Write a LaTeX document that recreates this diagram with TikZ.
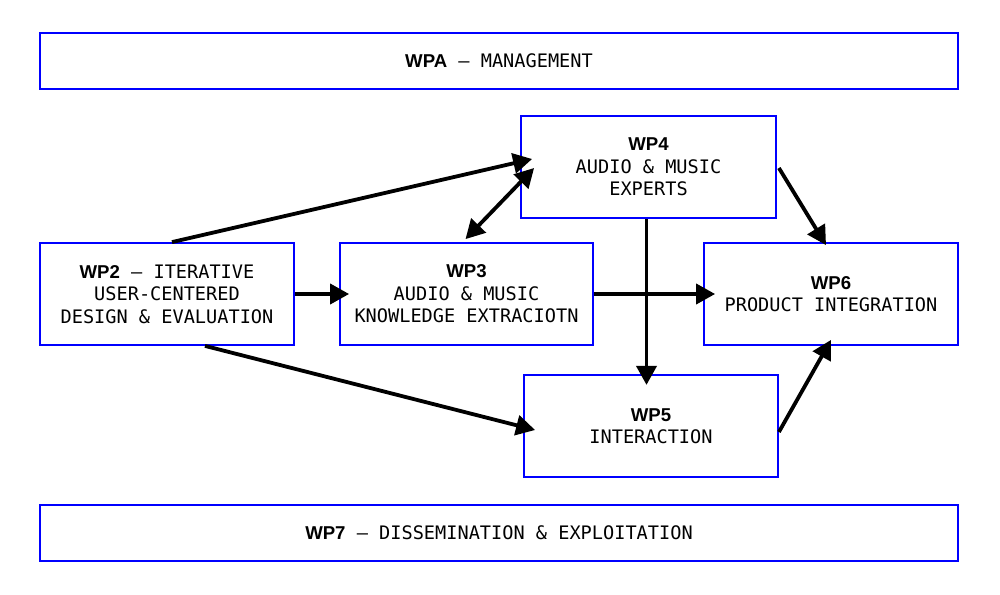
\documentclass[tikz,border=0pt]{standalone}
\usepackage{fontspec}
\setmonofont{DejaVu Sans Mono}
\newfontfamily\boldsans{Liberation Sans}
\usetikzlibrary{arrows.meta,calc}
\newcommand{\wpl}[1]{{\boldsans\bfseries #1}}
\begin{document}
\begin{tikzpicture}[x=1pt,y=-1pt,
  wpbox/.style={draw=blue, line width=1.8pt, inner sep=0pt, align=center,
    font=\fontsize{18.6}{22.5}\selectfont\ttfamily},
  conn/.style={line width=3.8pt, -{Triangle[length=19pt,width=20pt]}},
  dconn/.style={line width=3.8pt, {Triangle[length=19pt,width=20pt]}-{Triangle[length=19pt,width=20pt]}}]
\useasboundingbox (0,0) rectangle (1000,594);
\node[wpbox, minimum width=918, minimum height=56] (wpa) at (499,61) {\wpl{WPA} – MANAGEMENT};
\node[wpbox, minimum width=254, minimum height=102] (wp2) at (167,294) {\wpl{WP2} – ITERATIVE\\USER-CENTERED\\DESIGN \& EVALUATION};
\node[wpbox, minimum width=253, minimum height=102] (wp3) at (466.5,294) {\wpl{WP3}\\AUDIO \& MUSIC\\KNOWLEDGE EXTRACIOTN};
\node[wpbox, minimum width=255, minimum height=102] (wp4) at (648.5,167) {\wpl{WP4}\\AUDIO \& MUSIC\\EXPERTS};
\node[wpbox, minimum width=254, minimum height=102] (wp6) at (831,294) {\wpl{WP6}\\PRODUCT INTEGRATION};
\node[wpbox, minimum width=254, minimum height=102] (wp5) at (651,426) {\wpl{WP5}\\INTERACTION};
\node[wpbox, minimum width=918, minimum height=56] (wp7) at (499,533) {\wpl{WP7} – DISSEMINATION \& EXPLOITATION};

\draw[conn] ($(wp2.north)+(5,0)$) -- ($(wp4.west)+(12,-8)$);
\draw[dconn] ($(wp3.north)+(-1,-3)$) -- ($(wp4.west)+(14,1)$);
\draw[conn] (wp2.east) -- ($(wp3.west)+(10,0)$);
\draw[conn] (wp3.east) -- ($(wp6.west)+(12,0)$);
\draw[conn] ($(wp4.south)+(-2,0)$) -- ($(wp4.south)+(-2,166)$);
\draw[conn] ($(wp2.south)+(38,0)$) -- ($(wp5.west)+(12,4)$);
\draw[conn] ($(wp4.east)+(2,1)$) -- ($(wp6.north)+(-5,3)$);
\draw[conn] ($(wp5.east)+(0,6)$) -- ($(wp6.south)+(0,-6)$);
\end{tikzpicture}
\end{document}
